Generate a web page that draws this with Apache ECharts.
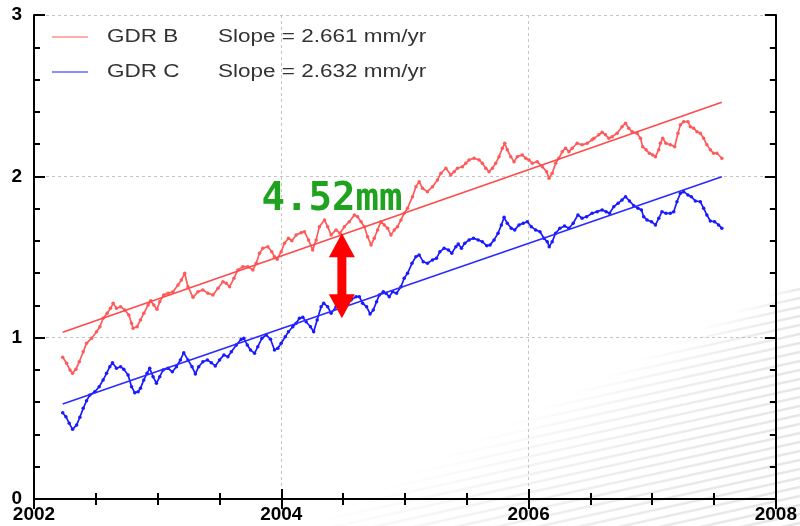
<!DOCTYPE html>
<html><head><meta charset="utf-8">
<script src="https://cdn.jsdelivr.net/npm/echarts/dist/echarts.min.js"></script>
<style>html,body{margin:0;padding:0;background:#fff}#c{width:800px;height:526px}</style>
</head><body><div id="c"></div>
<script>
const seriesNames = ['GDR B', 'GDR C'];
const slopes = ['2.661', '2.632'];
const xTicks = [2002, 2004, 2006, 2008];
const yTicks = [0, 1, 2, 3];

const gdrB = [
[2002.232,0.879],[2002.264,0.841],[2002.291,0.800],[2002.312,0.779],[2002.339,0.804],[2002.366,0.851],[2002.398,0.913],[2002.425,0.965],[2002.466,0.996],[2002.506,1.037],
[2002.533,1.068],[2002.559,1.120],[2002.592,1.151],[2002.619,1.182],[2002.640,1.213],[2002.667,1.182],[2002.700,1.192],[2002.734,1.172],[2002.767,1.141],[2002.789,1.089],
[2002.801,1.058],[2002.834,1.068],[2002.861,1.110],[2002.888,1.151],[2002.923,1.203],[2002.944,1.229],[2002.969,1.203],[2002.995,1.176],[2003.017,1.223],[2003.049,1.265],
[2003.084,1.275],[2003.124,1.285],[2003.165,1.327],[2003.192,1.358],[2003.219,1.399],[2003.245,1.316],[2003.286,1.250],[2003.326,1.285],[2003.366,1.296],[2003.407,1.275],
[2003.447,1.265],[2003.488,1.306],[2003.528,1.347],[2003.555,1.337],[2003.582,1.316],[2003.617,1.368],[2003.649,1.420],[2003.689,1.440],[2003.730,1.440],[2003.770,1.420],
[2003.797,1.461],[2003.824,1.523],[2003.851,1.554],[2003.891,1.564],[2003.923,1.533],[2003.945,1.502],[2003.967,1.486],[2003.999,1.533],[2004.026,1.585],[2004.058,1.616],
[2004.085,1.601],[2004.120,1.637],[2004.161,1.651],[2004.187,1.657],[2004.220,1.606],[2004.254,1.544],[2004.282,1.606],[2004.308,1.688],[2004.349,1.730],[2004.375,1.688],
[2004.403,1.637],[2004.443,1.668],[2004.475,1.647],[2004.510,1.688],[2004.550,1.719],[2004.591,1.761],[2004.617,1.750],[2004.645,1.719],[2004.672,1.688],[2004.698,1.626],
[2004.726,1.575],[2004.752,1.616],[2004.779,1.668],[2004.806,1.719],[2004.833,1.699],[2004.860,1.678],[2004.887,1.637],[2004.914,1.668],[2004.940,1.688],[2004.968,1.730],
[2004.994,1.771],[2005.021,1.802],[2005.061,1.874],[2005.089,1.936],[2005.115,1.967],[2005.142,1.926],[2005.182,1.905],[2005.223,1.936],[2005.263,1.978],[2005.291,2.019],
[2005.331,2.050],[2005.371,2.009],[2005.398,2.029],[2005.425,2.050],[2005.465,2.060],[2005.492,2.081],[2005.519,2.102],[2005.559,2.112],[2005.600,2.102],[2005.626,2.081],
[2005.654,2.050],[2005.680,2.029],[2005.707,2.050],[2005.734,2.081],[2005.761,2.122],[2005.788,2.174],[2005.807,2.205],[2005.828,2.164],[2005.856,2.122],[2005.882,2.091],
[2005.909,2.122],[2005.949,2.133],[2005.977,2.112],[2006.003,2.102],[2006.030,2.081],[2006.070,2.091],[2006.111,2.060],[2006.146,2.029],[2006.165,1.988],[2006.191,2.019],
[2006.219,2.081],[2006.245,2.112],[2006.272,2.153],[2006.299,2.174],[2006.326,2.153],[2006.353,2.174],[2006.393,2.205],[2006.433,2.195],[2006.474,2.205],[2006.514,2.226],
[2006.528,2.236],[2006.568,2.257],[2006.595,2.273],[2006.622,2.257],[2006.649,2.236],[2006.676,2.246],[2006.716,2.267],[2006.756,2.308],[2006.784,2.329],[2006.810,2.298],
[2006.837,2.277],[2006.877,2.267],[2006.905,2.236],[2006.923,2.184],[2006.950,2.164],[2006.977,2.143],[2007.004,2.133],[2007.026,2.122],[2007.053,2.164],[2007.066,2.205],
[2007.085,2.236],[2007.111,2.205],[2007.147,2.195],[2007.182,2.184],[2007.208,2.267],[2007.228,2.319],[2007.254,2.339],[2007.289,2.339],[2007.308,2.308],[2007.335,2.298],
[2007.362,2.277],[2007.389,2.267],[2007.416,2.236],[2007.442,2.195],[2007.470,2.164],[2007.496,2.143],[2007.523,2.143],[2007.563,2.112]
];

const gdrC = [
[2002.232,0.535],[2002.258,0.510],[2002.285,0.469],[2002.312,0.432],[2002.345,0.459],[2002.371,0.507],[2002.398,0.562],[2002.425,0.609],[2002.452,0.645],[2002.492,0.665],
[2002.527,0.696],[2002.559,0.738],[2002.587,0.779],[2002.613,0.820],[2002.635,0.845],[2002.667,0.810],[2002.700,0.820],[2002.726,0.804],[2002.761,0.769],[2002.789,0.696],
[2002.815,0.659],[2002.842,0.665],[2002.861,0.686],[2002.888,0.738],[2002.914,0.779],[2002.936,0.810],[2002.963,0.758],[2002.990,0.717],[2003.017,0.758],[2003.044,0.800],
[2003.084,0.810],[2003.119,0.789],[2003.152,0.820],[2003.184,0.862],[2003.211,0.907],[2003.245,0.862],[2003.278,0.820],[2003.305,0.775],[2003.332,0.820],[2003.366,0.851],
[2003.402,0.862],[2003.434,0.845],[2003.466,0.825],[2003.501,0.862],[2003.536,0.893],[2003.568,0.882],[2003.596,0.913],[2003.636,0.955],[2003.676,0.990],[2003.697,0.996],
[2003.725,0.955],[2003.751,0.924],[2003.784,0.903],[2003.810,0.944],[2003.843,0.996],[2003.878,1.017],[2003.913,0.990],[2003.945,0.924],[2003.972,0.934],[2003.999,0.965],
[2004.032,1.006],[2004.058,1.037],[2004.093,1.068],[2004.120,1.089],[2004.147,1.120],[2004.174,1.126],[2004.201,1.099],[2004.236,1.068],[2004.262,1.037],[2004.290,1.110],
[2004.322,1.192],[2004.343,1.213],[2004.375,1.192],[2004.403,1.151],[2004.443,1.192],[2004.483,1.182],[2004.524,1.213],[2004.564,1.234],[2004.605,1.254],[2004.631,1.254],
[2004.658,1.213],[2004.690,1.192],[2004.718,1.147],[2004.744,1.172],[2004.771,1.223],[2004.793,1.265],[2004.825,1.285],[2004.847,1.275],[2004.873,1.254],[2004.900,1.285],
[2004.932,1.275],[2004.968,1.316],[2004.994,1.368],[2005.021,1.399],[2005.057,1.461],[2005.089,1.502],[2005.115,1.513],[2005.148,1.471],[2005.182,1.461],[2005.223,1.482],
[2005.255,1.492],[2005.283,1.533],[2005.317,1.554],[2005.352,1.544],[2005.379,1.523],[2005.412,1.564],[2005.431,1.581],[2005.457,1.554],[2005.484,1.585],[2005.519,1.606],
[2005.554,1.616],[2005.592,1.606],[2005.626,1.595],[2005.662,1.569],[2005.689,1.575],[2005.721,1.606],[2005.753,1.647],[2005.780,1.699],[2005.802,1.746],[2005.828,1.709],
[2005.860,1.678],[2005.888,1.668],[2005.923,1.699],[2005.957,1.709],[2005.990,1.719],[2006.022,1.688],[2006.057,1.668],[2006.092,1.657],[2006.124,1.616],[2006.151,1.595],
[2006.167,1.564],[2006.191,1.595],[2006.219,1.647],[2006.253,1.678],[2006.291,1.692],[2006.326,1.678],[2006.361,1.709],[2006.399,1.761],[2006.433,1.740],[2006.469,1.750],
[2006.514,1.771],[2006.555,1.781],[2006.595,1.792],[2006.627,1.781],[2006.655,1.771],[2006.689,1.812],[2006.724,1.833],[2006.756,1.854],[2006.784,1.874],[2006.816,1.847],
[2006.851,1.818],[2006.885,1.802],[2006.913,1.792],[2006.931,1.750],[2006.958,1.730],[2006.994,1.719],[2007.026,1.699],[2007.053,1.740],[2007.079,1.781],[2007.111,1.771],
[2007.147,1.771],[2007.174,1.781],[2007.200,1.843],[2007.228,1.895],[2007.254,1.905],[2007.289,1.885],[2007.316,1.874],[2007.349,1.847],[2007.389,1.843],[2007.416,1.802],
[2007.442,1.761],[2007.470,1.723],[2007.504,1.719],[2007.537,1.699],[2007.563,1.678]
];

const trendB = [[2002.232, 1.033], [2007.563, 2.459]];
const trendC = [[2002.232, 0.589], [2007.563, 1.998]];

const gapLabel = '4.52mm';
const gapLabelAt = [2004.41, 1.854];
const gapArrow = [[2004.49, 1.647], [2004.49, 1.120]];

const colB = '#ff5a5a', colC = '#1a1aff';
const chart = echarts.init(document.getElementById('c'), null, {renderer: 'canvas'});

// decorative background stripes (lower right)
const stripes = [];
for (let yR = 280; yR <= 700; yR += 9) {
  const xs = Math.max(0, (497.6 - yR) / 0.272);
  const yL = yR + (800 - xs) * 0.22;
  stripes.push({
    type: 'line', silent: true, z: -10,
    shape: {x1: xs, y1: yL, x2: 800, y2: yR},
    style: {lineWidth: 2.5, stroke: {type: 'linear', x: 0, y: 0, x2: 1, y2: 0,
      colorStops: [{offset: 0, color: 'rgba(150,150,150,0)'}, {offset: 0.5, color: 'rgba(150,150,150,0.13)'}, {offset: 1, color: 'rgba(150,150,150,0.24)'}]}}
  });
}

const legendEls = [];
[colB, colC].forEach((c, i) => {
  const y = 37 + i * 35;
  legendEls.push({type: 'line', z: 20, shape: {x1: 52, y1: y, x2: 88, y2: y}, style: {stroke: c, lineWidth: 1.2}});
  legendEls.push({type: 'text', z: 20, x: 107, y: y, scaleX: 1.25,
    style: {text: seriesNames[i], fill: '#333', font: '18px "Liberation Sans", Arial, sans-serif', textAlign: 'left', textVerticalAlign: 'middle', align: 'left', verticalAlign: 'middle'}});
  legendEls.push({type: 'text', z: 20, x: 218, y: y, scaleX: 1.25,
    style: {text: 'Slope = ' + slopes[i] + ' mm/yr', fill: '#333', font: '18px "Liberation Sans", Arial, sans-serif', textAlign: 'left', textVerticalAlign: 'middle', align: 'left', verticalAlign: 'middle'}});
});

const axLine = {show: true, lineStyle: {color: '#000', width: 2}};
const xBase = {
  type: 'value', min: xTicks[0], max: xTicks[xTicks.length - 1], interval: 2,
  axisLine: axLine,
  axisTick: {show: true, inside: true, length: 10, lineStyle: {color: '#000', width: 2}},
  minorTick: {show: true, splitNumber: 4, length: 6, lineStyle: {color: '#000', width: 2}},
};
const yBase = {
  type: 'value', min: yTicks[0], max: yTicks[yTicks.length - 1], interval: 1,
  axisLine: axLine,
  axisTick: {show: true, inside: true, length: 11, lineStyle: {color: '#000', width: 2}},
  minorTick: {show: true, splitNumber: 5, length: 6, lineStyle: {color: '#000', width: 2}},
};
const labelStyle = {color: '#000', fontWeight: 'bold', fontSize: 19, fontFamily: '"Liberation Sans", Arial, sans-serif'};

chart.setOption({
  animation: false,
  backgroundColor: '#fff',
  grid: {left: 34, right: 23, top: 15, bottom: 27, containLabel: false},
  xAxis: [
    Object.assign({}, xBase, {position: 'bottom',
      axisLabel: Object.assign({show: true, margin: 6, formatter: v => String(v)}, labelStyle),
      splitLine: {show: true, lineStyle: {color: '#c4c4c4', type: [3, 3], width: 1}}}),
    Object.assign({}, xBase, {position: 'top', axisLabel: {show: false}, splitLine: {show: false}})
  ],
  yAxis: [
    Object.assign({}, yBase, {position: 'left',
      axisLabel: Object.assign({show: true, margin: 12, formatter: v => String(v)}, labelStyle),
      splitLine: {show: true, lineStyle: {color: '#c4c4c4', type: [3, 3], width: 1}}}),
    Object.assign({}, yBase, {position: 'right', axisLabel: {show: false}, splitLine: {show: false}})
  ],
  graphic: stripes.concat(legendEls),
  series: [
    {name: seriesNames[0], type: 'line', data: gdrB, xAxisIndex: 0, yAxisIndex: 0,
      symbol: 'circle', symbolSize: 3.5, showSymbol: true, showAllSymbol: true,
      lineStyle: {color: colB, width: 1.7}, itemStyle: {color: colB}, z: 3},
    {name: seriesNames[1], type: 'line', data: gdrC,
      symbol: 'circle', symbolSize: 3.5, showSymbol: true, showAllSymbol: true,
      lineStyle: {color: colC, width: 1.7}, itemStyle: {color: colC}, z: 3},
    {name: seriesNames[0] + ' trend', type: 'line', data: trendB, symbol: 'none',
      lineStyle: {color: '#ff4a4a', width: 1.6}, z: 4},
    {name: seriesNames[1] + ' trend', type: 'line', data: trendC, symbol: 'none',
      lineStyle: {color: '#2a2aff', width: 1.6}, z: 4},
    {type: 'custom', data: [gapLabelAt], z: 10, clip: false,
      renderItem: (params, api) => {
        const t = api.coord(gapArrow[0]);
        const b = api.coord(gapArrow[1]);
        const hw = 13, hl = 24, sw = 4.5, x = t[0];
        const pts = [[x, t[1]], [x + hw, t[1] + hl], [x + sw, t[1] + hl], [x + sw, b[1] - hl], [x + hw, b[1] - hl],
          [x, b[1]], [x - hw, b[1] - hl], [x - sw, b[1] - hl], [x - sw, t[1] + hl], [x - hw, t[1] + hl]];
        const lp = api.coord(gapLabelAt);
        return {type: 'group', children: [
          {type: 'polygon', shape: {points: pts}, style: {fill: '#ff0000'}},
          {type: 'text', x: lp[0], y: lp[1], style: {text: gapLabel, fill: '#1fa31f',
            font: 'bold 39px "DejaVu Sans Mono", monospace', textAlign: 'center', textVerticalAlign: 'middle', align: 'center', verticalAlign: 'middle'}}
        ]};
      }}
  ]
});
</script>
</body></html>
